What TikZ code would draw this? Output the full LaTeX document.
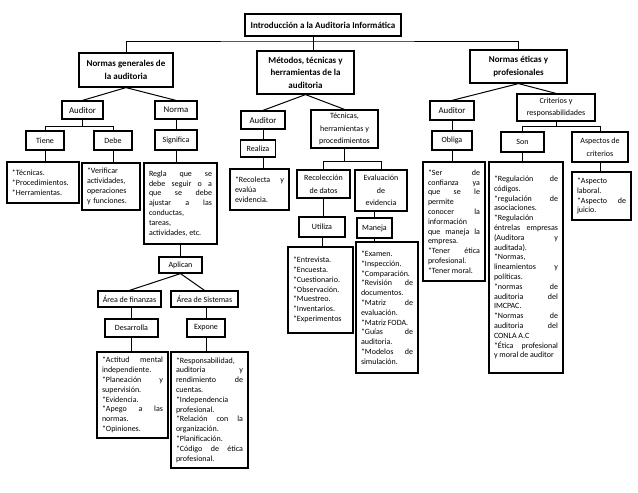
\documentclass[tikz,border=0pt]{standalone}
\usepackage{fontspec}
\setmainfont{Carlito}
\tikzset{
  hdr/.style={draw=black,line width=1.2pt,align=center,inner sep=1pt,font=\bfseries\fontsize{9}{12.5}\selectfont},
  lab/.style={draw=black,line width=1.2pt,align=center,inner sep=1pt,font=\fontsize{8}{12.5}\selectfont},
  labbig/.style={lab,font=\fontsize{8.8}{12.5}\selectfont},
  txt/.style={draw=black,line width=1.2pt,align=justify,inner xsep=5pt,inner ysep=2pt,font=\fontsize{8}{9.8}\selectfont,
    execute at begin node={\parindent=0pt\tolerance=10000\hbadness=10000\hyphenpenalty=10000}},
  lst/.style={txt,align=left},
  lnk/.style={line width=1pt},
}
\begin{document}
\begin{tikzpicture}[x=1pt,y=-1pt]
  \useasboundingbox (0,0) rectangle (638,493);
  % top level
  \node[hdr,minimum width=156,minimum height=22] (tit) at (323,25) {Introducción a la Auditoria Informática};
  \node[hdr,minimum width=94,minimum height=34] (ng) at (126,70) {Normas generales de\\la auditoria};
  \node[hdr,minimum width=97,minimum height=43] (met) at (305.5,72.5) {Métodos, técnicas y\\herramientas de la\\auditoria};
  \node[hdr,minimum width=97,minimum height=33] (ne) at (518.5,66.5) {Normas éticas y\\profesionales};
  \coordinate (jt) at (313,41);
  \draw[lnk] (tit.south -| jt) -- (met.north -| jt);
  \draw[lnk] (ng.north) |- (jt) -| (ne.north);
  % normas generales
  \node[labbig,minimum width=41,minimum height=18] (aud1) at (82.5,110) {Auditor};
  \node[labbig,minimum width=42,minimum height=18] (nor) at (176,110) {Norma};
  \node[lab,minimum width=38,minimum height=19] (tie) at (45,140.5) {Tiene};
  \node[lab,minimum width=38,minimum height=19] (deb) at (113,140.5) {Debe};
  \node[lab,minimum width=42,minimum height=20] (sig) at (176,140) {Significa};
  \node[lst,text width=62,minimum height=41] (ttie) at (43,182.5) {*Técnicas.\par *Procedimientos.\par *Herramientas.};
  \node[lst,text width=48,minimum height=47] (tdeb) at (111,186.5) {*Verificar\par actividades,\par operaciones\par y funciones.};
  \node[txt,text width=63,minimum height=81] (tsig) at (180.5,203.5) {Regla que se\linebreak debe seguir o a\linebreak que se debe\linebreak ajustar a las\linebreak conductas,\linebreak tareas,\linebreak actividades, etc.};
  \node[lab,minimum width=43,minimum height=16] (apl) at (180.5,265) {Aplican};
  \node[lab,minimum width=63,minimum height=16] (fin) at (129.5,299) {Área de finanzas};
  \node[lab,minimum width=67,minimum height=16] (sis) at (204.5,299) {Área de Sistemas};
  \node[lab,minimum width=53,minimum height=18] (des) at (131.5,328) {Desarrolla};
  \node[lab,minimum width=38,minimum height=18] (exp) at (206,328) {Expone};
  \node[txt,text width=61,minimum height=86] (tdes) at (132.5,395) {*Actitud mental\linebreak independiente.\par *Planeación y\linebreak supervisión.\par *Evidencia.\par *Apego a las\linebreak normas.\par *Opiniones.};
  \node[txt,text width=67,minimum height=116] (texp) at (209.5,410) {*Responsabilidad,\linebreak auditoria y\linebreak rendimiento de\linebreak cuentas.\par *Independencia\linebreak profesional.\par *Relación con la\linebreak organización.\par *Planificación.\par *Código de ética\linebreak profesional.};
  \draw[lnk] (ng.south) -- (aud1.north);
  \draw[lnk] (ng.south) -- (nor.north);
  \draw[lnk] (aud1.south) -- ++(0,7) coordinate (j1);
  \draw[lnk] (tie.north) |- (j1) -| (deb.north);
  \draw[lnk] (nor.south) -- (sig.north);
  \draw[lnk] (tie.south) -- (tie.south |- ttie.north);
  \draw[lnk] (deb.south) -- (deb.south |- tdeb.north);
  \draw[lnk] (sig.south) -- (sig.south |- tsig.north);
  \draw[lnk] (apl.north |- tsig.south) -- (apl.north);
  \draw[lnk] (apl.south) -- (fin.north);
  \draw[lnk] (apl.south) -- (sis.north);
  \draw[lnk] (des.north |- fin.south) -- (des.north);
  \draw[lnk] (exp.north |- sis.south) -- (exp.north);
  \draw[lnk] (des.south) -- (des.south |- tdes.north);
  \draw[lnk] (exp.south) -- (exp.south |- texp.north);
  % metodos
  \node[labbig,minimum width=44,minimum height=18] (aud2) at (263,120) {Auditor};
  \node[lab,minimum width=67,minimum height=38] (tec) at (344.5,129) {Técnicas,\\herramientas y\\procedimientos};
  \node[lab,minimum width=35,minimum height=17] (rea) at (258,148.5) {Realiza};
  \node[txt,text width=49,minimum height=41] (trea) at (259.5,189.5) {*Recolecta y\linebreak evalúa\linebreak evidencia.};
  \node[lab,minimum width=53,minimum height=28] (rec) at (323.5,184) {Recolección\\de datos};
  \node[lab,minimum width=52,minimum height=41] (eva) at (381,190.5) {Evaluación\\de\\evidencia};
  \node[lab,minimum width=46,minimum height=20] (uti) at (322,227) {Utiliza};
  \node[lab,minimum width=35,minimum height=20] (man) at (374.5,228) {Maneja};
  \node[lst,text width=55,minimum height=86] (tuti) at (320.5,290) {*Entrevista.\par *Encuesta.\par *Cuestionario.\par *Observación.\par *Muestreo.\par *Inventarios.\par *Experimentos};
  \node[txt,text width=52,minimum height=131] (tman) at (387,307.5) {*Examen.\par *Inspección.\par *Comparación.\par *Revisión de\linebreak documentos.\par *Matriz de\linebreak evaluación.\par *Matriz FODA.\par *Guías de\linebreak auditoria.\par *Modelos de\linebreak simulación.};
  \draw[lnk] (met.south) -- (aud2.north);
  \draw[lnk] (met.south) -- (tec.north);
  \draw[lnk] (aud2.south) -- (aud2.south |- rea.north);
  \draw[lnk] (aud2.south |- rea.south) -- (aud2.south |- trea.north);
  \draw[lnk] (tec.south) -- ++(0,13) coordinate (j2);
  \draw[lnk] (rec.north) |- (j2) -| (eva.north);
  \draw[lnk] (rec.south) -- (rec.south |- uti.north);
  \draw[lnk] (man.north |- eva.south) -- (man.north);
  \draw[lnk] (uti.south) -- (uti.south |- tuti.north);
  \draw[lnk] (man.south) -- (man.south |- tman.north);
  % normas eticas
  \node[labbig,minimum width=44,minimum height=19] (aud3) at (452,110.5) {Auditor};
  \node[lab,minimum width=78,minimum height=27] (cri) at (556,107.5) {Criterios y\\responsabilidades};
  \node[lab,minimum width=40,minimum height=19] (obl) at (452,140.5) {Obliga};
  \node[lab,minimum width=43,minimum height=20] (son) at (522.5,142) {Son};
  \node[lab,minimum width=56,minimum height=30] (asp) at (600,147) {Aspectos de\\criterios};
  \node[txt,text width=52,minimum height=119] (tobl) at (454,221.5) {*Ser de\linebreak confianza ya\linebreak que se le\linebreak permite\linebreak conocer la\linebreak información\linebreak que maneja la\linebreak empresa.\par *Tener ética\linebreak profesional.\par *Tener moral.};
  \node[txt,text width=64,minimum height=211] (tson) at (526,267.5) {*Regulación de\linebreak códigos.\par *regulación de\linebreak asociaciones.\par *Regulación\linebreak éntrelas empresas\linebreak (Auditora y\linebreak auditada).\par *Normas,\linebreak lineamientos y\linebreak políticas.\par *normas de\linebreak auditoria del\linebreak IMCPAC.\par *Normas de\linebreak auditoria del\linebreak CONLA A.C\par *Ética profesional\linebreak y moral de auditor};
  \node[txt,text width=49,minimum height=48] (tasp) at (601.5,196) {*Aspecto\linebreak laboral.\par *Aspecto de\linebreak juicio.};
  \draw[lnk] (ne.south) -- (aud3.north);
  \draw[lnk] (ne.south) -- (cri.north);
  \draw[lnk] (aud3.south) -- (obl.north);
  \draw[lnk] (obl.south) -- (obl.south |- tobl.north);
  \draw[lnk] (cri.south) -- ++(0,5) coordinate (j3);
  \draw[lnk] (son.north) |- (j3) -| (asp.north);
  \draw[lnk] (son.south) -- (son.south |- tson.north);
  \draw[lnk] (asp.south) -- (asp.south |- tasp.north);
\end{tikzpicture}
\end{document}
